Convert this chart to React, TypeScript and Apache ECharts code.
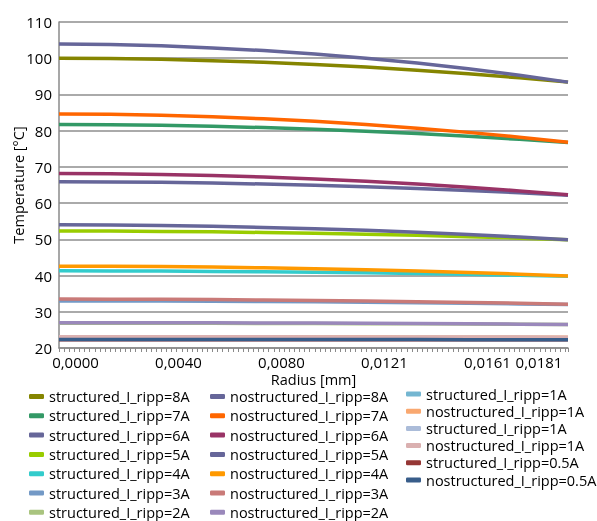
import React, { useEffect, useRef } from "react";
import * as echarts from "echarts";

// Radius sample points [mm]
const radius = [0, 0.002, 0.004, 0.006, 0.008, 0.01, 0.012, 0.014, 0.016, 0.018, 0.0199];
// X tick label values
const xTickValues = [0, 0.00402, 0.00804, 0.01206, 0.01608, 0.01809];

// Temperatures [°C]
const s8A = [100.0, 99.9, 99.7, 99.3, 98.9, 98.3, 97.6, 96.7, 95.7, 94.6, 93.4];
const s7A = [81.7, 81.6, 81.5, 81.2, 80.85, 80.4, 79.85, 79.2, 78.45, 77.6, 76.7];
const s6A = [65.9, 65.86, 65.73, 65.53, 65.27, 64.94, 64.53, 64.05, 63.5, 62.87, 62.2];
const s5A = [52.3, 52.27, 52.19, 52.06, 51.89, 51.68, 51.41, 51.1, 50.74, 50.33, 49.9];
const s4A = [41.3, 41.28, 41.23, 41.15, 41.05, 40.91, 40.75, 40.55, 40.33, 40.07, 39.8];
const s3A = [33.0, 32.99, 32.96, 32.9, 32.83, 32.74, 32.63, 32.5, 32.35, 32.18, 32.0];
const s2A = [26.85, 26.85, 26.83, 26.82, 26.79, 26.76, 26.72, 26.68, 26.62, 26.56, 26.5];
const n8A = [103.9, 103.77, 103.43, 102.85, 102.12, 101.17, 100.02, 98.65, 97.08, 95.29, 93.4];
const n7A = [84.6, 84.5, 84.25, 83.82, 83.27, 82.57, 81.71, 80.7, 79.53, 78.2, 76.8];
const n6A = [68.2, 68.13, 67.93, 67.61, 67.2, 66.67, 66.02, 65.25, 64.37, 63.36, 62.3];
const n5A = [54.0, 53.95, 53.82, 53.59, 53.3, 52.93, 52.48, 51.95, 51.34, 50.64, 49.9];
const n4A = [42.6, 42.57, 42.48, 42.33, 42.14, 41.9, 41.6, 41.25, 40.85, 40.39, 39.9];
const n3A = [33.5, 33.48, 33.44, 33.36, 33.26, 33.14, 32.98, 32.8, 32.59, 32.35, 32.1];
const n2A = [27.0, 26.99, 26.98, 26.95, 26.92, 26.87, 26.82, 26.75, 26.68, 26.59, 26.5];
const s1A = [22.95, 22.95, 22.95, 22.94, 22.93, 22.92, 22.91, 22.9, 22.88, 22.87, 22.85];
const n1A = [23.05, 23.05, 23.05, 23.04, 23.03, 23.02, 23.01, 23.0, 22.98, 22.97, 22.95];
const s1Ab = [22.9, 22.9, 22.9, 22.89, 22.88, 22.87, 22.86, 22.85, 22.83, 22.82, 22.8];
const n1Ab = [23.1, 23.1, 23.1, 23.09, 23.08, 23.07, 23.06, 23.05, 23.03, 23.02, 23.0];
const s05A = [22.3, 22.3, 22.3, 22.3, 22.29, 22.29, 22.28, 22.27, 22.26, 22.26, 22.25];
const n05A = [22.35, 22.35, 22.35, 22.35, 22.34, 22.34, 22.33, 22.32, 22.31, 22.31, 22.3];

const seriesNames = [
  "structured_I_ripp=8A",
  "structured_I_ripp=7A",
  "structured_I_ripp=6A",
  "structured_I_ripp=5A",
  "structured_I_ripp=4A",
  "structured_I_ripp=3A",
  "structured_I_ripp=2A",
  "nostructured_I_ripp=8A",
  "nostructured_I_ripp=7A",
  "nostructured_I_ripp=6A",
  "nostructured_I_ripp=5A",
  "nostructured_I_ripp=4A",
  "nostructured_I_ripp=3A",
  "nostructured_I_ripp=2A",
  "structured_I_ripp=1A",
  "nostructured_I_ripp=1A",
  "structured_I_ripp=1A#2",
  "nostructured_I_ripp=1A#2",
  "structured_I_ripp=0.5A",
  "nostructured_I_ripp=0.5A",
];
const seriesValues = [s8A, s7A, s6A, s5A, s4A, s3A, s2A, n8A, n7A, n6A, n5A, n4A, n3A, n2A, s1A, n1A, s1Ab, n1Ab, s05A, n05A];
const seriesColors = [
  "#858500", "#339966", "#666699", "#99cc00", "#33cccc", "#7399c6", "#a9c47f",
  "#666699", "#ff6600", "#993366", "#666699", "#ff9900", "#c97a78", "#9a88bb",
  "#74b6d1", "#f9a870", "#abbcd9", "#dab0b0", "#953735", "#385d8a",
];

export default function App() {
  const ref = useRef<HTMLDivElement>(null);
  useEffect(() => {
    const chart = echarts.init(ref.current!, null, { renderer: "svg" });
    const font = "'Open Sans', sans-serif";
    // legend cell placement: three columns
    const legendPos = (i: number) => {
      if (i < 7) return { left: 29, top: 396.5 + 19.3 * i - 8 };
      if (i < 14) return { left: 210, top: 396.5 + 19.3 * (i - 7) - 8 };
      return { left: 406, top: 394 + 17.2 * (i - 14) - 8 };
    };
    const legends = seriesNames.map((name, i) => ({
      ...legendPos(i),
      orient: "horizontal",
      itemWidth: 15,
      itemHeight: 5,
      icon: "roundRect",
      selectedMode: false,
      padding: 0,
      formatter: (n: string) => n.split("#")[0],
      textStyle: { fontFamily: font, fontSize: 14.5, color: "#000", lineHeight: 16 },
      data: [name],
    }));
    chart.setOption({
      animation: false,
      grid: { left: 59, right: 29, top: 22, bottom: 173, containLabel: false, outerBoundsMode: "none" },
      xAxis: [
        {
          type: "value",
          min: 0,
          max: 0.0199,
          interval: 0.0002,
          name: "Radius [mm]",
          nameLocation: "middle",
          nameGap: 24,
          nameMoveOverlap: false,
          nameTextStyle: { fontFamily: font, fontSize: 14.5, color: "#000", lineHeight: 14 },
          axisLine: { show: true, lineStyle: { color: "#8a8a8a", width: 1.5 } },
          axisTick: { show: true, length: 4, lineStyle: { color: "#8a8a8a", width: 1 } },
          splitLine: { show: false },
          axisLabel: { show: false },
        },
        {
          // label-only axis (Excel draws its category labels offset from the points)
          type: "value",
          position: "bottom",
          min: -0.000644,
          max: 0.019222,
          axisLine: { show: false },
          axisTick: { show: false },
          splitLine: { show: false },
          axisLabel: {
            customValues: xTickValues,
            formatter: (v: number) => v.toFixed(4).replace(".", ","),
            margin: 6,
            fontFamily: font,
            fontSize: 15,
            color: "#000",
          },
        },
      ],
      yAxis: {
        type: "value",
        min: 20,
        max: 110,
        interval: 10,
        name: "Temperature [°C]",
        nameLocation: "middle",
        nameGap: 33,
        nameMoveOverlap: false,
        nameTextStyle: { fontFamily: font, fontSize: 14.5, color: "#000", lineHeight: 16 },
        axisLine: { show: true, lineStyle: { color: "#8a8a8a", width: 1.5 } },
        axisTick: { show: false },
        splitLine: { show: true, lineStyle: { color: "#8e8e8e", width: 1.5 } },
        axisLabel: { margin: 7, fontFamily: font, fontSize: 15, color: "#000" },
      },
      legend: legends,
      series: seriesNames.map((name, i) => ({
        name,
        type: "line",
        xAxisIndex: 0,
        showSymbol: false,
        symbol: "none",
        color: seriesColors[i],
        lineStyle: { width: 3.5, color: seriesColors[i] },
        data: radius.map((r, j) => [r, seriesValues[i][j]]),
      })),
    });
    return () => chart.dispose();
  }, []);
  return <div ref={ref} style={{ position: "fixed", left: 0, top: 0, width: 597, height: 521 }} />;
}
